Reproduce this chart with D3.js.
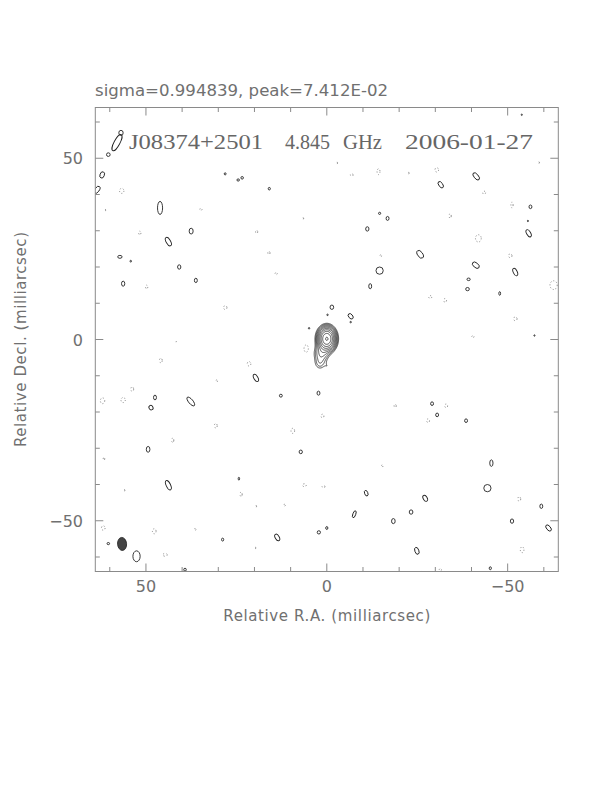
<!DOCTYPE html>
<html><head><meta charset="utf-8">
<script src="https://cdn.jsdelivr.net/npm/d3@7"></script>
<style>body{margin:0;background:#fff}svg{display:block}</style>
</head><body>
<svg id="c" width="612" height="792"></svg>
<script>
// ---------- data ----------
const sourceName = "J08374+2501";
const freqLabel = "4.845";
const freqUnit = "GHz";
const obsDate = "2006-01-27";
const sigmaText = "sigma=0.994839, peak=7.412E-02";
const xTitle = "Relative R.A. (milliarcsec)";
const yTitle = "Relative Decl. (milliarcsec)";
const axisDomain = [64, -64];
const majorTicks = [50, 0, -50];
const minorTicks = [60, 40, 30, 20, 10, -10, -20, -30, -40, -60];
const peakMJy = 74.12;
const baseLevelMJy = 3.0;
const levelFactor = Math.SQRT2;
const nLevels = 10;
// core gaussian components: [ra, dec, amp mJy, sigmaRA, sigmaDec]
const coreComps = [
  [0.0, 0.2, 70.0, 1.30, 1.70],
  [1.5, -3.8, 8.0, 1.35, 1.50],
  [1.9, -6.6, 4.5, 1.10, 1.30],
  [-0.3, -7.6, 2.2, 0.6, 0.9]
];
// beam: [ra, dec, semiRA, semiDec, angle]
const beam = [56.6, -56.4, 1.25, 1.8, -5];
// positive islands: [ra, dec, semiA, semiB, angle]
const posIslands = [
  [58.0, 54.3, 0.8, 2.5, 28], [56.9, 57.0, 0.6, 0.7, 0], [60.4, 51.0, 0.5, 0.5, 0],
  [62.1, 45.4, 0.6, 0.9, 20], [63.5, 41.3, 0.6, 1.1, 35], [46.1, 36.3, 0.7, 1.8, 0],
  [37.5, 29.9, 0.55, 0.8, 0], [43.8, 27.0, 0.6, 1.3, -30], [57.2, 22.8, 0.6, 0.4, 0],
  [54.2, 21.6, 0.2, 0.25, 0], [40.8, 20.0, 0.45, 0.6, 0], [56.3, 15.4, 0.45, 0.7, 0],
  [36.2, 16.3, 0.4, 0.6, 0], [28.1, 45.7, 0.25, 0.3, 0], [24.5, 44.0, 0.35, 0.3, 0],
  [23.4, 44.6, 0.35, 0.35, 0], [15.9, 41.6, 0.3, 0.35, 0], [-1.4, 8.9, 0.5, 0.6, 0],
  [-41.3, 45.0, 0.6, 1.2, -40], [-31.5, 42.7, 0.55, 1.0, -35], [-56.3, 36.6, 0.4, 0.5, 0],
  [-14.6, 34.8, 0.3, 0.3, 0], [-16.8, 33.4, 0.4, 0.55, 0], [-11.2, 30.5, 0.45, 0.6, 0],
  [-55.8, 29.3, 0.55, 1.1, -30], [-25.8, 23.5, 0.7, 1.2, -35], [-14.6, 19.0, 1.0, 1.0, 0],
  [-41.2, 20.5, 0.65, 1.1, -50], [-52.1, 18.6, 0.55, 1.1, -25], [-12.0, 14.7, 0.4, 0.7, 0],
  [-39.2, 16.6, 0.45, 0.35, 0], [-38.9, 13.9, 0.5, 0.45, 0], [-47.8, 12.7, 0.25, 0.5, 0],
  [-6.6, 6.4, 0.55, 0.85, -40], [19.6, -10.6, 0.55, 1.1, -30], [12.7, -15.5, 0.4, 0.4, 0],
  [2.3, -14.8, 0.4, 0.55, 0], [47.5, -16.0, 0.4, 0.65, 0], [48.6, -18.8, 0.55, 0.65, -30],
  [37.6, -17.1, 0.6, 1.5, -40], [7.2, -31.0, 0.45, 0.5, 0], [49.4, -30.3, 0.5, 0.8, 0],
  [43.8, -40.2, 0.6, 1.4, -25], [24.3, -38.4, 0.2, 0.4, 0], [13.7, -54.6, 0.55, 1.0, -30],
  [2.2, -53.2, 0.45, 0.45, 0], [0.0, -52.0, 0.3, 0.4, 0], [28.8, -55.2, 0.3, 0.4, 0],
  [60.4, -56.3, 0.35, 0.3, 0], [52.6, -59.8, 1.0, 1.5, 0], [39.2, -63.5, 0.35, 0.4, 0],
  [-24.9, -58.3, 0.55, 1.0, -20], [-26.3, -64.5, 0.5, 0.5, 0], [-45.2, -63.1, 0.3, 0.4, 0],
  [-61.3, -52.0, 0.55, 1.0, -40], [-51.2, -50.1, 0.45, 0.6, 0], [-18.4, -50.1, 0.5, 0.7, 0],
  [-29.1, -17.7, 0.4, 0.5, 0], [-30.5, -20.8, 0.4, 0.5, 0], [-38.5, -22.4, 0.4, 0.5, 0],
  [-45.5, -34.1, 0.45, 0.9, 0], [-44.4, -41.0, 1.0, 1.0, 0], [-59.3, -46.0, 0.4, 0.6, 0],
  [-27.2, -43.8, 0.55, 0.9, -30], [-23.3, -47.6, 0.5, 0.6, 0], [-10.9, -42.4, 0.45, 0.8, -20],
  [-7.6, -48.2, 0.4, 1.0, 20], [-0.2, 6.8, 0.2, 0.2, 0], [4.9, 3.1, 0.2, 0.2, 0],
  [-6.6, 4.8, 0.2, 0.2, 0], [-53.9, 62.0, 0.15, 0.2, 0], [-57.4, 1.1, 0.15, 0.2, 0],
  [-55.6, 32.7, 0.15, 0.2, 0]
];
// negative islands: [ra, dec, semiA, semiB, angle]
const negIslands = [
  [56.7, 41.0, 0.6, 0.7, 0], [51.7, 29.4, 0.3, 0.5, 0], [49.8, 14.5, 0.3, 0.5, 0],
  [61.3, 35.7, 0.2, 0.2, 0], [34.8, 35.9, 0.3, 0.3, 0], [19.4, 29.7, 0.3, 0.4, 0],
  [16.0, 23.9, 0.3, 0.4, 0], [14.0, 18.2, 0.3, 0.3, 0], [6.6, 33.4, 0.2, 0.2, 0],
  [28.1, 8.8, 0.5, 0.5, 0], [-6.9, 45.4, 0.4, 0.3, 0], [-14.3, 46.3, 0.4, 0.8, 0],
  [-22.6, 45.9, 0.2, 0.2, 0], [-30.4, 46.8, 0.5, 0.6, 0], [-43.5, 40.5, 0.4, 0.4, 0],
  [-51.2, 37.1, 0.3, 0.8, 0], [-34.1, 34.1, 0.3, 0.6, 0], [-41.9, 27.9, 0.8, 1.0, 0],
  [-58.6, 48.8, 0.2, 0.2, 0], [-50.7, 23.1, 0.5, 0.5, 0], [-14.9, 23.1, 0.25, 0.25, 0],
  [-28.6, 11.7, 0.4, 0.4, 0], [-32.7, 10.8, 0.4, 0.5, 0], [-62.7, 15.0, 1.0, 1.2, 0],
  [-52.1, 5.7, 0.5, 0.5, 0], [-40.4, 0.8, 0.3, 0.3, 0], [-2.8, 48.7, 0.2, 0.2, 0],
  [45.9, -5.8, 0.4, 0.6, 0], [21.5, -6.7, 0.5, 0.6, 0], [53.8, -13.7, 0.4, 0.6, 0],
  [56.3, -16.7, 0.6, 0.7, 0], [62.0, -16.9, 0.6, 0.8, 0], [30.4, -11.4, 0.2, 0.3, 0],
  [30.7, -23.8, 0.4, 0.6, 0], [9.4, -25.2, 0.5, 0.7, 0], [42.6, -27.8, 0.3, 0.6, 0],
  [1.2, -21.1, 0.4, 0.5, 0], [61.6, -32.9, 0.2, 0.4, 0], [6.2, -40.2, 0.5, 0.4, 0],
  [0.9, -40.6, 0.4, 0.3, 0], [23.7, -42.7, 0.3, 0.6, 0], [19.6, -46.0, 0.2, 0.2, 0],
  [11.7, -45.7, 0.25, 0.25, 0], [56.0, -41.6, 0.2, 0.2, 0], [61.8, -52.0, 0.5, 0.6, 0],
  [47.7, -52.9, 0.5, 0.7, 0], [36.4, -52.4, 0.25, 0.25, 0], [41.7, -0.5, 0.15, 0.15, 0],
  [5.7, -2.5, 0.6, 1.0, 0], [44.7, -59.4, 0.6, 0.4, 0], [-54.0, -58.0, 0.5, 0.8, 0],
  [-31.4, -63.5, 0.3, 0.3, 0], [19.8, -57.5, 0.2, 0.2, 0], [-28.0, -22.4, 0.4, 0.5, 0],
  [-33.0, -18.3, 0.4, 0.5, 0], [-53.2, -44.0, 0.4, 0.6, 0], [-15.3, -34.9, 0.2, 0.3, 0],
  [-18.9, -18.3, 0.3, 0.4, 0]
];

// ---------- layout ----------
const svg = d3.select("#c");
const x = d3.scaleLinear().domain(axisDomain).range([95.3, 558.3]);
const y = d3.scaleLinear().domain(axisDomain).range([107.5, 571.5]);
const kx = Math.abs(x(1) - x(0)), ky = Math.abs(y(1) - y(0));
const textCol = "#707070", frameCol = "#8a8a8a";

svg.append("defs").append("clipPath").attr("id", "clip")
  .append("rect").attr("x", x(64)).attr("y", y(64))
  .attr("width", x(-64) - x(64)).attr("height", y(-64) - y(64));

const plot = svg.append("g").attr("clip-path", "url(#clip)");

function drawIslands(data, cls) {
  plot.append("g").selectAll("ellipse").data(data).join("ellipse")
    .attr("cx", d => x(d[0])).attr("cy", d => y(d[1]))
    .attr("rx", d => d[2] * kx).attr("ry", d => d[3] * ky)
    .attr("transform", d => `rotate(${d[4]},${x(d[0])},${y(d[1])})`)
    .attr("fill", "none")
    .attr("stroke", cls === "pos" ? "#222" : "#777")
    .attr("stroke-width", 0.9)
    .attr("stroke-dasharray", cls === "pos" ? null : "1,2");
}
drawIslands(posIslands, "pos");
drawIslands(negIslands, "neg");

// core contours from gaussian components
const step = 0.1, ra0 = 10, dec0 = 10, nx = 201, ny = 241;
const grid = new Float64Array(nx * ny);
for (let j = 0; j < ny; j++) for (let i = 0; i < nx; i++) {
  const ra = ra0 - i * step, dec = dec0 - j * step;
  let v = 0;
  for (const c of coreComps) {
    const dx = (ra - c[0]) / c[3], dy = (dec - c[1]) / c[4];
    v += c[2] * Math.exp(-0.5 * (dx * dx + dy * dy));
  }
  grid[j * nx + i] = v;
}
const levels = d3.range(nLevels).map(k => baseLevelMJy * Math.pow(levelFactor, k)).filter(l => l < peakMJy);
const contours = d3.contours().size([nx, ny]).thresholds(levels)(grid);
const proj = d3.geoTransform({
  point: function(px, py) {
    this.stream.point(x(ra0 - (px - 0.5) * step), y(dec0 - (py - 0.5) * step));
  }
});
plot.append("g").selectAll("path").data(contours).join("path")
  .attr("d", d3.geoPath(proj)).attr("fill", "none")
  .attr("stroke", "#222").attr("stroke-width", 0.8);

// beam
plot.append("ellipse")
  .attr("cx", x(beam[0])).attr("cy", y(beam[1]))
  .attr("rx", beam[2] * kx).attr("ry", beam[3] * ky)
  .attr("transform", `rotate(${beam[4]},${x(beam[0])},${y(beam[1])})`)
  .attr("fill", "#444").attr("stroke", "#222").attr("stroke-width", 0.8);

// frame
svg.append("rect").attr("x", x(64)).attr("y", y(64))
  .attr("width", x(-64) - x(64)).attr("height", y(-64) - y(64))
  .attr("fill", "none").attr("stroke", frameCol).attr("stroke-width", 1);

// ticks
const tg = svg.append("g").attr("stroke", frameCol).attr("stroke-width", 1);
const allTicks = majorTicks.map(v => [v, 8]).concat(minorTicks.map(v => [v, 4.5]));
allTicks.forEach(([v, len]) => {
  tg.append("line").attr("x1", x(v)).attr("x2", x(v)).attr("y1", y(-64)).attr("y2", y(-64) - len);
  tg.append("line").attr("x1", x(v)).attr("x2", x(v)).attr("y1", y(64)).attr("y2", y(64) + len);
  tg.append("line").attr("y1", y(v)).attr("y2", y(v)).attr("x1", x(64)).attr("x2", x(64) + len);
  tg.append("line").attr("y1", y(v)).attr("y2", y(v)).attr("x1", x(-64)).attr("x2", x(-64) - len);
});

const fmt = v => v < 0 ? "\u2212" + Math.abs(v) : String(v);
const sans = "'DejaVu Sans', sans-serif";
// x tick labels
svg.append("g").selectAll("text").data(majorTicks).join("text")
  .attr("x", d => x(d)).attr("y", 592).attr("text-anchor", "middle")
  .attr("font-family", sans).attr("font-size", 16).attr("fill", textCol)
  .text(fmt);
// y tick labels
svg.append("g").selectAll("text").data(majorTicks).join("text")
  .attr("x", 83).attr("y", d => y(d) + 6).attr("text-anchor", "end")
  .attr("font-family", sans).attr("font-size", 16).attr("fill", textCol)
  .text(fmt);

// axis titles
svg.append("text").attr("x", 326.8).attr("y", 621).attr("text-anchor", "middle")
  .attr("font-family", sans).attr("font-size", 15).attr("fill", textCol)
  .attr("textLength", 207).text(xTitle);
svg.append("text").attr("transform", "translate(26,339.5) rotate(-90)")
  .attr("text-anchor", "middle")
  .attr("font-family", sans).attr("font-size", 15).attr("fill", textCol)
  .attr("textLength", 215).text(yTitle);

// top text
svg.append("text").attr("x", 95).attr("y", 96)
  .attr("font-family", sans).attr("font-size", 15).attr("fill", textCol)
  .attr("textLength", 293).attr("lengthAdjust", "spacingAndGlyphs").text(sigmaText);

// title inside plot
const serif = "'Liberation Serif','DejaVu Serif',serif";
const titleParts = [[sourceName, 129, 134], [freqLabel, 285, 45], [freqUnit, 343, 39], [obsDate, 405, 128]];
svg.append("g").selectAll("text").data(titleParts).join("text")
  .attr("x", d => d[1]).attr("y", 149)
  .attr("font-family", serif).attr("font-size", 21).attr("fill", "#666")
  .attr("textLength", d => d[2]).attr("lengthAdjust", "spacingAndGlyphs")
  .text(d => d[0]);
</script>
</body></html>
